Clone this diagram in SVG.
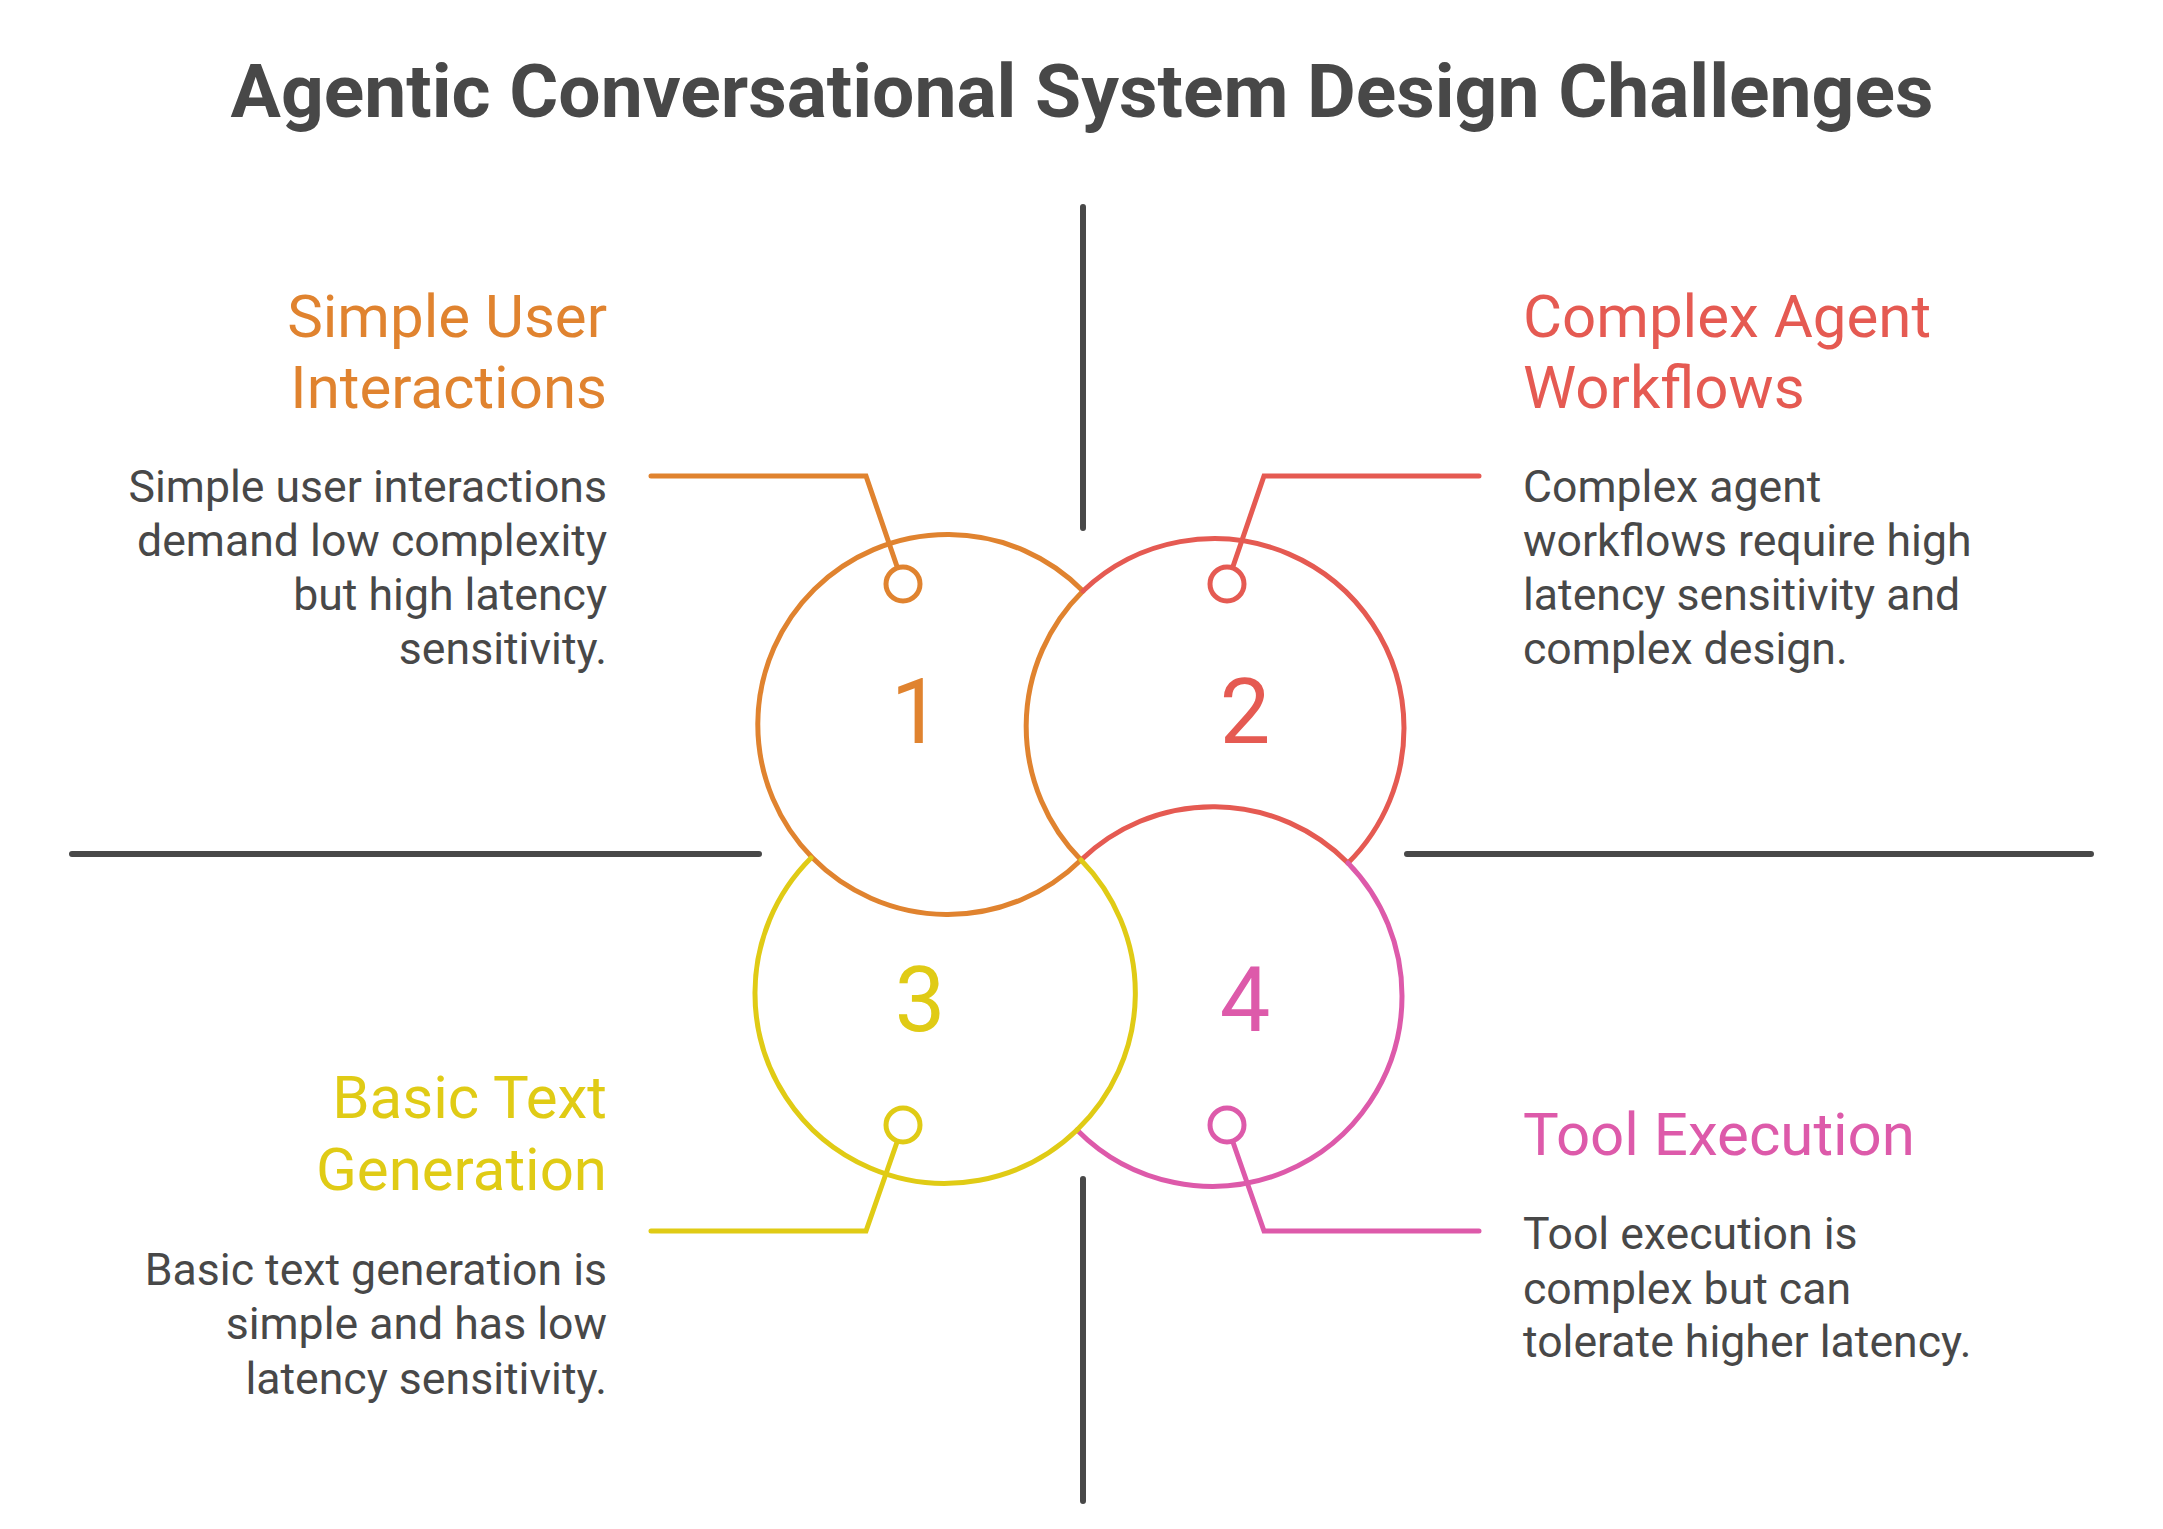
<svg xmlns="http://www.w3.org/2000/svg" width="2163" height="1529" viewBox="0 0 2163 1529">
<style>
.t{font-family:Roboto,"Liberation Sans",sans-serif;}
.title{font-size:75px;font-weight:700;fill:#484848;}
.h{font-size:60px;font-weight:400;}
.b{font-size:44.6px;font-weight:400;fill:#484848;}
.n{font-size:90px;font-weight:400;text-anchor:middle;}
.o{stroke:#E0832F;fill:#E0832F;}
.r{stroke:#E55A52;fill:#E55A52;}
.y{stroke:#E0CB15;fill:#E0CB15;}
.p{stroke:#DD5AAA;fill:#DD5AAA;}
.arc{fill:none;stroke-width:5;stroke-linecap:round;}
.dot{fill:#fff;stroke-width:5;}
.grid{stroke:#484848;stroke-width:6;stroke-linecap:round;fill:none;}
text.o,text.r,text.y,text.p{stroke:none;}
</style>
<rect width="2163" height="1529" fill="#fff"/>
<text class="t title" x="1082" y="117" text-anchor="middle">Agentic Conversational System Design Challenges</text>

<g id="axes">
<path class="grid" d="M1083 207 V528 M1083 1179 V1501 M72 854 H759 M1407 854 H2091"/>
</g>

<g id="connectors">
<path class="arc o" d="M651 476 H866 L903 584"/>
<path class="arc r" d="M1479 476 H1264 L1227 584"/>
<path class="arc y" d="M651 1231 H866 L903 1125"/>
<path class="arc p" d="M1479 1231 H1264 L1227 1125"/>
</g>

<g id="circles">
<path class="arc o" d="M1083 591 A190 190 0 1 0 1081 860"/>
<path class="arc o" d="M1083 591 A190 190 0 0 0 1081 860"/>
<path class="arc r" d="M1083 591 A190 190 0 0 1 1404 728 A190 190 0 0 1 1348 863"/>
<path class="arc r" d="M1081 860 A190 190 0 0 1 1348 863"/>
<path class="arc p" d="M1348 863 A190 190 0 0 1 1402 996 A190 190 0 0 1 1077 1130"/>
<path class="arc y" d="M811 858 A190 190 0 0 0 755 992 A190 190 0 0 0 1077 1130"/>
<path class="arc y" d="M1081 860 A190 190 0 0 1 1077 1130"/>
</g>

<g id="node1">
<circle class="dot o" cx="903" cy="584" r="17" fill="#fff"/>
<text class="t n o" x="916" y="743">1</text>
<text class="t h o" x="607" y="337" text-anchor="end">Simple User</text>
<text class="t h o" x="607" y="408" text-anchor="end">Interactions</text>
<text class="t b" text-anchor="end"><tspan x="607" y="502">Simple user interactions</tspan><tspan x="607" y="556">demand low complexity</tspan><tspan x="607" y="610">but high latency</tspan><tspan x="607" y="664">sensitivity.</tspan></text>
</g>

<g id="node2">
<circle class="dot r" cx="1227" cy="584" r="17" fill="#fff"/>
<text class="t n r" x="1245" y="743">2</text>
<text class="t h r" x="1523" y="337">Complex Agent</text>
<text class="t h r" x="1523" y="408">Workflows</text>
<text class="t b"><tspan x="1523" y="502">Complex agent</tspan><tspan x="1523" y="556">workflows require high</tspan><tspan x="1523" y="610">latency sensitivity and</tspan><tspan x="1523" y="664">complex design.</tspan></text>
</g>

<g id="node3">
<circle class="dot y" cx="903" cy="1125" r="17" fill="#fff"/>
<text class="t n y" x="920" y="1031">3</text>
<text class="t h y" x="607" y="1118" text-anchor="end">Basic Text</text>
<text class="t h y" x="607" y="1190" text-anchor="end">Generation</text>
<text class="t b" text-anchor="end"><tspan x="607" y="1285">Basic text generation is</tspan><tspan x="607" y="1339">simple and has low</tspan><tspan x="607" y="1394">latency sensitivity.</tspan></text>
</g>

<g id="node4">
<circle class="dot p" cx="1227" cy="1125" r="17" fill="#fff"/>
<text class="t n p" x="1245" y="1031">4</text>
<text class="t h p" x="1523" y="1155">Tool Execution</text>
<text class="t b"><tspan x="1523" y="1249">Tool execution is</tspan><tspan x="1523" y="1304">complex but can</tspan><tspan x="1523" y="1357">tolerate higher latency.</tspan></text>
</g>
</svg>
